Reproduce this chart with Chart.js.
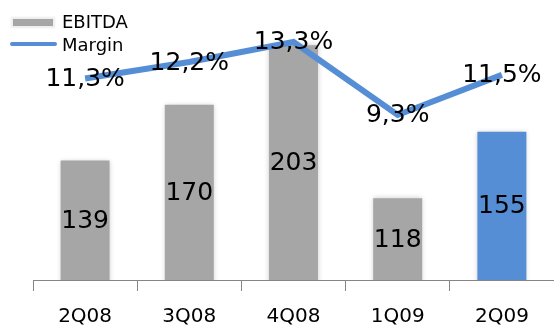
<!DOCTYPE html>
<html>
<head>
<meta charset="utf-8">
<script src="https://cdn.jsdelivr.net/npm/chart.js@4.4.1/dist/chart.umd.min.js"></script>
<style>
  html, body { margin: 0; padding: 0; background: #fff; overflow: hidden; }
  #wrap { position: relative; width: 554px; height: 327px; }
  #legend { position: absolute; left: 0; top: 0; font-family: "DejaVu Sans", sans-serif; font-size: 18px; color: #000; }
  .item { position: absolute; white-space: nowrap; line-height: 20px; }
  .sw-bar { position: absolute; left: 13px; width: 40px; height: 7px; background: #A6A6A6; box-shadow: 0 0 2px 2px #ececec; }
  .sw-line { position: absolute; left: 10px; width: 47px; height: 4px; background: #558ED5; border-radius: 2px; }
</style>
</head>
<body>
<div id="wrap">
  <canvas id="c" width="554" height="327"></canvas>
  <div id="legend">
    <div class="sw-bar" style="top:19px"></div>
    <div class="item" style="left:62px; top:12px">EBITDA</div>
    <div class="sw-line" style="top:42px"></div>
    <div class="item" style="left:62px; top:35px">Margin</div>
  </div>
</div>
<script>
const categories = ["2Q08", "3Q08", "4Q08", "1Q09", "2Q09"];
const ebitda = [139, 170, 203, 118, 155];
const margin = [11.3, 12.2, 13.3, 9.3, 11.5];
const marginLabels = ["11,3%", "12,2%", "13,3%", "9,3%", "11,5%"];
const barColors = ["#A6A6A6", "#A6A6A6", "#A6A6A6", "#A6A6A6", "#558ED5"];

const shadowPlugin = {
  id: 'barShadow',
  beforeDatasetDraw(chart, args) {
    if (args.index === 1) {
      const ctx = chart.ctx;
      ctx.save();
      ctx.shadowColor = 'rgba(0,0,0,0.22)';
      ctx.shadowBlur = 5;
      ctx.shadowOffsetX = 0;
      ctx.shadowOffsetY = 0;
    }
  },
  afterDatasetDraw(chart, args) {
    if (args.index === 1) chart.ctx.restore();
  }
};

const labelPlugin = {
  id: 'valueLabels',
  afterDatasetsDraw(chart) {
    const ctx = chart.ctx;
    const bottom = chart.chartArea.bottom;
    ctx.save();
    ctx.fillStyle = '#000';
    ctx.font = '25px "DejaVu Sans"';
    ctx.textAlign = 'center';
    ctx.textBaseline = 'middle';
    const barMeta = chart.getDatasetMeta(1);
    barMeta.data.forEach((el, i) => {
      const y = (el.y + bottom) / 2;
      ctx.fillText(String(ebitda[i]), el.x, y + 1);
    });
    const lineMeta = chart.getDatasetMeta(0);
    lineMeta.data.forEach((el, i) => {
      ctx.fillText(marginLabels[i], el.x, el.y + 1);
    });
    ctx.restore();
  }
};

new Chart(document.getElementById('c'), {
  type: 'bar',
  data: {
    labels: categories,
    datasets: [
      {
        type: 'line',
        label: 'Margin',
        data: margin,
        yAxisID: 'y1',
        borderColor: '#558ED5',
        borderWidth: 6,
        pointRadius: 0,
        fill: false,
        tension: 0,
        order: 0
      },
      {
        type: 'bar',
        label: 'EBITDA',
        data: ebitda,
        yAxisID: 'y',
        backgroundColor: barColors,
        borderWidth: 0,
        categoryPercentage: 1,
        barPercentage: 0.47,
        order: 1
      }
    ]
  },
  options: {
    responsive: false,
    animation: false,
    events: [],
    layout: { padding: { left: 33, right: -3, top: 0, bottom: 0 } },
    plugins: { legend: { display: false }, tooltip: { enabled: false } },
    scales: {
      x: {
        offset: true,
        grid: { offset: true, drawOnChartArea: false, tickLength: 11, color: '#868686', lineWidth: 1 },
        border: { display: true, color: '#868686', width: 1 },
        ticks: { color: '#000', font: { family: 'DejaVu Sans', size: 20 }, padding: 14 },
        afterFit(scale) { scale.height = 47; }
      },
      y: { display: false, min: 72.6, max: 228.2 },
      y1: { display: false, min: 0.26, max: 15.6 }
    }
  },
  plugins: [shadowPlugin, labelPlugin]
});
</script>
</body>
</html>
